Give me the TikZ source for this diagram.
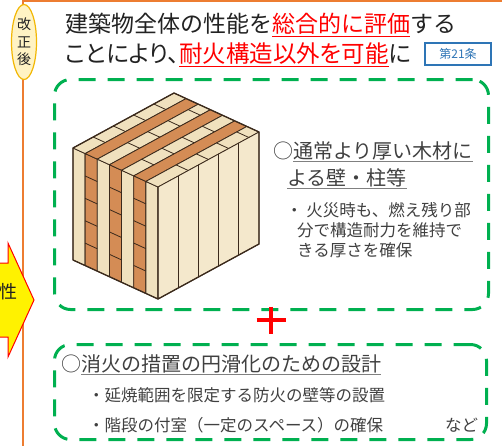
\documentclass[tikz,border=0pt]{standalone}
\usepackage{fontspec}
\setmainfont{Noto Sans CJK JP}
\newfontfamily\propjp{Noto Sans CJK JP}[RawFeature=+palt]
\usetikzlibrary{positioning,shapes.geometric}

\definecolor{frameorange}{HTML}{ED7D31}
\definecolor{dashgreen}{HTML}{00B050}
\definecolor{jpred}{HTML}{FF0000}
\definecolor{articleblue}{HTML}{2E75B6}
\definecolor{titleblack}{HTML}{222222}
\definecolor{bodygray}{HTML}{404040}
\definecolor{linegray}{HTML}{808080}
\definecolor{badgefill}{HTML}{FFF3C4}
\definecolor{badgeline}{HTML}{F2B705}
\definecolor{woodlight}{HTML}{F0E1BE}
\definecolor{woodface}{HTML}{F4E8CC}
\definecolor{woodbrown}{HTML}{D48C55}
\definecolor{woodline}{HTML}{3B2A1C}

% red underlined key words, gray rule under headings
\newcommand\keyword[1]{\textcolor{jpred}{\underline{#1}}}
\newcommand\grayline[1]{\rlap{\textcolor{linegray}{\underline{\phantom{#1}}}}#1}

\begin{document}
\begin{tikzpicture}[x=1pt, y=-1pt,
    dashbox/.style={draw=dashgreen, line width=3pt, rounded corners=16pt, dash pattern=on 17pt off 12pt},
    headline/.style={anchor=west, inner sep=0pt, text=titleblack, font=\fontsize{23}{28}\selectfont},
    lead/.style={anchor=west, inner sep=0pt, text=bodygray, font=\fontsize{20}{24}\selectfont},
    item/.style={anchor=west, inner sep=0pt, text=bodygray, font=\fontsize{16.5}{20}\selectfont},
    badge/.style={ellipse, draw=badgeline, fill=badgefill, line width=1.2pt, inner sep=0pt, minimum width=25pt, minimum height=75pt, align=center, text=titleblack, font=\fontsize{14}{17.5}\selectfont},
    article/.style={draw=articleblue, line width=1.3pt, minimum width=66pt, minimum height=22pt, inner sep=0pt, text=articleblue, font=\fontsize{12}{14}\selectfont},
    woodedge/.style={draw=woodline, line width=0.8pt, line join=round},
    plus/.style={draw=jpred, line width=3.3pt}
]
\useasboundingbox (0,0) rectangle (502,445);

% -------- Frame and side arrow --------
\draw[frameorange, line width=2.2pt] (23,460) -- (23,1) -- (520,1);

\draw[fill=yellow, draw=jpred, line width=1pt, line join=miter]
    (-30,263) -- (8,263) -- (8,243) -- (34,300) -- (8,357) -- (8,337) -- (-30,337) -- cycle;
\node[inner sep=0pt, text=titleblack, font=\fontsize{18}{20}\selectfont] (side) at (8,292) {性};

\node[badge] (after) at (24,42) {改\\正\\後};

% -------- Heading --------
\node[headline] (title1) at (65,25) {建築物全体の性能を\keyword{総合的に評価}する};
\node[headline, font=\propjp\fontsize{23.5}{28}\selectfont] (title2) at (65,55) {ことにより、\keyword{耐火構造以外を可能}に};
\node[article] (art21) at (458,54) {第21条};

% -------- Upper box: thick timber --------
\node[dashbox, anchor=north west, minimum width=434pt, minimum height=230pt] (woodbox) at (53,78) {};

\begin{scope}[shift={(73,148)}, x={(85pt,-39pt)}, y={(101pt,55pt)}, z={(0pt,-112pt)}]
  % layers seen on the left face and on top
  \foreach \i/\col in {0/woodlight,1/woodbrown,2/woodlight,3/woodbrown,4/woodlight,5/woodbrown,6/woodlight} {
    \filldraw[fill=\col, woodedge] ({\i/7},0,0) -- ({(\i+1)/7},0,0) -- ({(\i+1)/7},0,1) -- ({\i/7},0,1) -- cycle;
    \filldraw[fill=\col, woodedge] ({\i/7},0,0) -- ({(\i+1)/7},0,0) -- ({(\i+1)/7},1,0) -- ({\i/7},1,0) -- cycle;
  }
  % cross boards
  \foreach \i in {1,3,5}
    \foreach \k in {0.2,0.4,0.6,0.8}
      \draw[woodedge] ({\i/7},0,\k) -- ({(\i+1)/7},0,\k);
  \foreach \i/\s in {0/0,2/0.1,4/0,6/0.1}
    \foreach \k in {0.2,0.4,0.6,0.8}
      \draw[woodedge] ({\i/7},{\k+\s},0) -- ({(\i+1)/7},{\k+\s},0);
  % right face boards
  \filldraw[fill=woodface, woodedge] (1,0,0) -- (1,1,0) -- (1,1,1) -- (1,0,1) -- cycle;
  \foreach \k in {0.2,0.4,0.6,0.8}
    \draw[woodedge] (1,\k,0) -- (1,\k,1);
  \draw[woodline, line width=1.3pt, line join=round]
    (0,0,0) -- (0,1,0) -- (1,1,0) -- (1,1,1) -- (1,0,1) -- (0,0,1) -- cycle
    (1,0,0) -- (1,0,1);
\end{scope}

\node[lead] (wallhead) at (273,152) {○\grayline{通常より厚い木材に}};
\node[lead] (wallhead2) at (287,179) {\grayline{よる壁・柱等}};
\node[item] (burn1) at (286,210) {・ 火災時も、燃え残り部};
\node[item] (burn2) at (297,230) {分で構造耐力を維持で};
\node[item] (burn3) at (297,250) {きる厚さを確保};

% -------- Plus sign --------
\coordinate (plussign) at (271,320);
\draw[plus] (plussign) ++(-14.5,0) -- ++(29,0) (plussign) ++(0,-13.5) -- ++(0,27);

% -------- Lower box: fire fighting --------
\node[dashbox, anchor=north west, minimum width=432pt, minimum height=95pt] (firebox) at (53,343) {};

\node[lead] (firehead) at (61,365) {○\grayline{消火の措置の円滑化のための設計}};
\node[item] (fire1) at (88,395) {・延焼範囲を限定する防火の壁等の設置};
\node[item] (fire2) at (88,425) {・階段の付室（一定のスペース）の確保};
\node[item] (etc) at (445,425) {など};

\end{tikzpicture}
\end{document}
